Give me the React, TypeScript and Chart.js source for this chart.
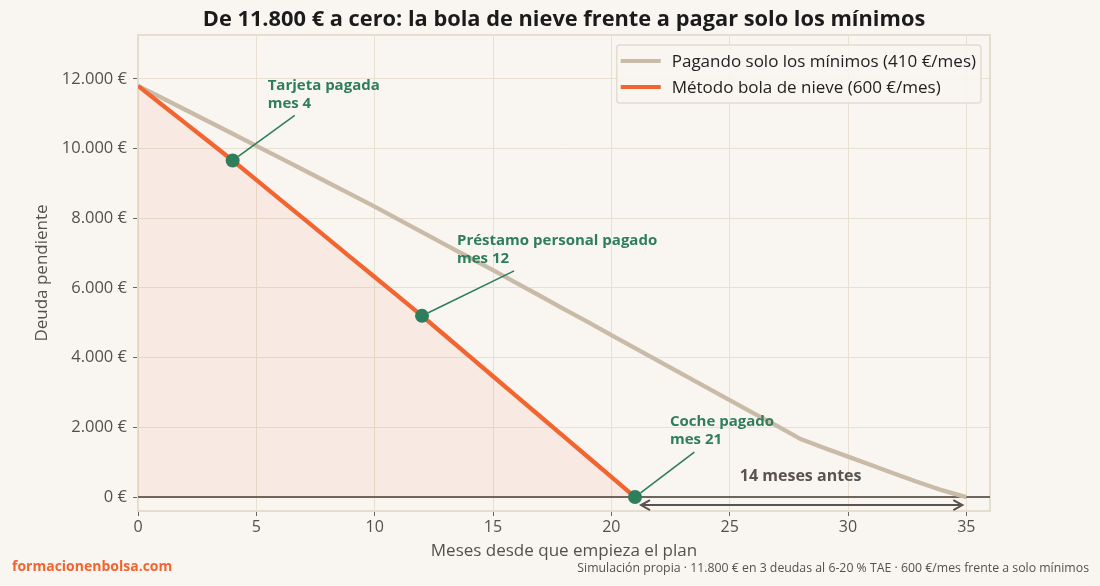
import { useEffect, useRef } from 'react';
import { Chart, registerables } from 'chart.js';

Chart.register(...registerables);

const FONT = '"Open Sans", "Noto Sans", sans-serif';

// Deuda pendiente (€) mes a mes
const minimumsMonths = [
  0, 1, 2, 3, 4, 5, 6, 7, 8, 9, 10, 11, 12, 13, 14, 15, 16, 17, 18, 19, 20, 21, 22, 23, 24, 25, 26, 27, 28, 29, 30, 31, 32, 33, 34, 35,
];
const minimumsDebt = [
  11800, 11460, 11115, 10770, 10425, 10080, 9735, 9385, 9035, 8685, 8335, 7970, 7605, 7240, 6875, 6510, 6140, 5770,
  5395, 5025, 4650, 4275, 3900, 3525, 3155, 2785, 2410, 2040, 1665, 1410, 1160, 910, 660, 420, 190, 0,
];
const snowballMonths = [0, 1, 2, 3, 4, 5, 6, 7, 8, 9, 10, 11, 12, 13, 14, 15, 16, 17, 18, 19, 20, 21];
const snowballDebt = [
  11800, 11265, 10730, 10195, 9660, 9102, 8545, 7988, 7430, 6872, 6315, 5758, 5200, 4622, 4045, 3467, 2890, 2312,
  1735, 1157, 580, 0,
];

// Hitos de la bola de nieve
const milestoneMonths = [4, 12, 21];
const milestoneLabels = [
  ['Tarjeta pagada', 'mes 4'],
  ['Préstamo personal pagado', 'mes 12'],
  ['Coche pagado', 'mes 21'],
];

const xTicks = [0, 5, 10, 15, 20, 25, 30, 35];
const yTicks = [0, 2000, 4000, 6000, 8000, 10000, 12000];

const seriesLabels = ['Pagando solo los mínimos (410 €/mes)', 'Método bola de nieve (600 €/mes)'];
const gapLabel = '14 meses antes';
const gapFrom = 21;
const gapTo = 35;

const COLORS = {
  bg: '#f9f6f1',
  grid: '#e8e0d2',
  spine: '#e5ddcf',
  beige: '#c9bba8',
  orange: '#f26531',
  green: '#2e7d5b',
  dark: '#5b534d',
  text: '#555050',
};

const fmtEuro = (v: number) => String(v).replace(/\B(?=(\d{3})+(?!\d))/g, '.') + ' €';

const overlayPlugin = {
  id: 'overlay',
  beforeDraw(chart: any) {
    const { ctx, width, height } = chart;
    ctx.save();
    ctx.fillStyle = COLORS.bg;
    ctx.fillRect(0, 0, width, height);
    ctx.restore();
  },
  beforeDatasetsDraw(chart: any) {
    const { ctx, chartArea } = chart;
    const y = chart.scales.y;
    ctx.save();
    // bordes superior y derecho
    ctx.strokeStyle = COLORS.spine;
    ctx.lineWidth = 2;
    ctx.beginPath();
    ctx.moveTo(chartArea.left, chartArea.top);
    ctx.lineTo(chartArea.right, chartArea.top);
    ctx.lineTo(chartArea.right, chartArea.bottom);
    ctx.stroke();
    // línea de cero
    const y0 = y.getPixelForValue(0);
    ctx.strokeStyle = '#6e655e';
    ctx.lineWidth = 2;
    ctx.beginPath();
    ctx.moveTo(chartArea.left, y0);
    ctx.lineTo(chartArea.right, y0);
    ctx.stroke();
    ctx.restore();
  },
  afterDatasetsDraw(chart: any) {
    const { ctx, chartArea, width } = chart;
    const x = chart.scales.x;
    const y = chart.scales.y;
    ctx.save();

    // anotaciones de hitos
    ctx.font = `bold 15px ${FONT}`;
    ctx.textBaseline = 'middle';
    ctx.textAlign = 'left';
    milestoneMonths.forEach((m, i) => {
      const px = x.getPixelForValue(m);
      const py = y.getPixelForValue(snowballDebt[m]);
      const tx = px + 35;
      const ty = py - 75;
      const lines = milestoneLabels[i];
      const w = Math.max(...lines.map((l) => ctx.measureText(l).width));
      const cx = tx + w / 2;
      const cy = ty + 9;
      const endY = ty + 18 + 12;
      const t = (py - endY) / (py - cy);
      const endX = px + (cx - px) * t;
      const ang = Math.atan2(endY - py, endX - px);
      ctx.strokeStyle = COLORS.green;
      ctx.lineWidth = 1.6;
      ctx.beginPath();
      ctx.moveTo(px + Math.cos(ang) * 7, py + Math.sin(ang) * 7);
      ctx.lineTo(endX, endY);
      ctx.stroke();
      ctx.fillStyle = COLORS.green;
      lines.forEach((l, j) => ctx.fillText(l, tx, ty + j * 18));
    });

    // flecha "14 meses antes"
    const ax1 = x.getPixelForValue(gapFrom) + 6;
    const ax2 = x.getPixelForValue(gapTo) - 4;
    const ay = y.getPixelForValue(-230);
    ctx.strokeStyle = COLORS.dark;
    ctx.lineWidth = 2;
    ctx.beginPath();
    ctx.moveTo(ax1, ay);
    ctx.lineTo(ax2, ay);
    ctx.moveTo(ax1 + 9, ay - 5);
    ctx.lineTo(ax1, ay);
    ctx.lineTo(ax1 + 9, ay + 5);
    ctx.moveTo(ax2 - 9, ay - 5);
    ctx.lineTo(ax2, ay);
    ctx.lineTo(ax2 - 9, ay + 5);
    ctx.stroke();
    ctx.fillStyle = COLORS.dark;
    ctx.font = `bold 16px ${FONT}`;
    ctx.textAlign = 'center';
    ctx.fillText(gapLabel, x.getPixelForValue((gapFrom + gapTo) / 2), y.getPixelForValue(600));

    // leyenda
    ctx.font = `17px ${FONT}`;
    const tw = Math.max(...seriesLabels.map((l) => ctx.measureText(l).width));
    const bw = 52 + tw + 8;
    const bx = chartArea.right - 9 - bw;
    const by = chartArea.top + 10;
    const bh = 58;
    ctx.fillStyle = 'rgba(249,246,241,0.85)';
    ctx.strokeStyle = '#e4dccf';
    ctx.lineWidth = 1.5;
    ctx.beginPath();
    ctx.roundRect(bx, by, bw, bh, 3);
    ctx.fill();
    ctx.stroke();
    [COLORS.beige, COLORS.orange].forEach((c, i) => {
      const ly = by + 16 + i * 26;
      ctx.strokeStyle = c;
      ctx.lineWidth = 4;
      ctx.beginPath();
      ctx.moveTo(bx + 4, ly);
      ctx.lineTo(bx + 44, ly);
      ctx.stroke();
      ctx.fillStyle = '#222';
      ctx.textAlign = 'left';
      ctx.fillText(seriesLabels[i], bx + 55, ly + 1);
    });

    // títulos de ejes
    ctx.fillStyle = COLORS.text;
    ctx.font = `17px ${FONT}`;
    ctx.textAlign = 'center';
    ctx.fillText('Meses desde que empieza el plan', (chartArea.left + chartArea.right) / 2, 551);
    ctx.save();
    ctx.translate(42, (chartArea.top + chartArea.bottom) / 2);
    ctx.rotate(-Math.PI / 2);
    ctx.fillText('Deuda pendiente', 0, 0);
    ctx.restore();

    // título
    ctx.fillStyle = '#1b1b1b';
    ctx.font = `bold 21.8px ${FONT}`;
    ctx.textAlign = 'center';
    ctx.fillText(
      'De 11.800 € a cero: la bola de nieve frente a pagar solo los mínimos',
      (chartArea.left + chartArea.right) / 2,
      20
    );

    // pie
    ctx.textAlign = 'left';
    ctx.fillStyle = COLORS.orange;
    ctx.font = `bold 14px ${FONT}`;
    ctx.fillText('formacionenbolsa.com', 12, 567);
    ctx.textAlign = 'right';
    ctx.fillStyle = COLORS.text;
    ctx.font = `12.3px ${FONT}`;
    ctx.fillText(
      'Simulación propia · 11.800 € en 3 deudas al 6-20 % TAE · 600 €/mes frente a solo mínimos',
      width - 11,
      568
    );
    ctx.restore();
  },
};

export default function App() {
  const canvasRef = useRef<HTMLCanvasElement>(null);

  useEffect(() => {
    document.body.style.margin = '0';
    if (!canvasRef.current) return;

    const chart = new Chart(canvasRef.current, {
      type: 'line',
      data: {
        datasets: [
          {
            label: 'Hitos',
            data: milestoneMonths.map((m) => ({ x: m, y: snowballDebt[m] })),
            showLine: false,
            pointRadius: 7,
            pointBackgroundColor: COLORS.green,
            pointBorderColor: COLORS.green,
            pointBorderWidth: 0,
          },
          {
            label: seriesLabels[1],
            data: snowballMonths.map((m, i) => ({ x: m, y: snowballDebt[i] })),
            borderColor: COLORS.orange,
            borderWidth: 4.3,
            pointRadius: 0,
            fill: 'origin',
            backgroundColor: 'rgba(242,101,49,0.08)',
            tension: 0,
          },
          {
            label: seriesLabels[0],
            data: minimumsMonths.map((m, i) => ({ x: m, y: minimumsDebt[i] })),
            borderColor: COLORS.beige,
            borderWidth: 4.3,
            pointRadius: 0,
            fill: false,
            tension: 0,
          },
        ],
      },
      options: {
        responsive: true,
        maintainAspectRatio: false,
        animation: false,
        layout: { padding: { top: 35, right: 110, left: 0, bottom: 0 } },
        plugins: {
          legend: { display: false },
          title: { display: false },
          tooltip: { enabled: false },
        },
        scales: {
          x: {
            type: 'linear',
            min: 0,
            max: 36,
            afterBuildTicks: (s: any) => {
              s.ticks = xTicks.map((v) => ({ value: v }));
            },
            afterFit: (s: any) => {
              s.height = 75;
            },
            grid: { color: COLORS.grid, lineWidth: 1, tickColor: '#6e655e', tickLength: 5, tickWidth: 1 },
            border: { display: true, color: COLORS.spine, width: 2 },
            ticks: { color: COLORS.text, font: { family: FONT, size: 16 }, padding: 2 },
          },
          y: {
            min: -400,
            max: 13260,
            afterBuildTicks: (s: any) => {
              s.ticks = yTicks.map((v) => ({ value: v }));
            },
            afterFit: (s: any) => {
              s.width = 138;
            },
            grid: { color: COLORS.grid, lineWidth: 1, tickColor: '#6e655e', tickLength: 5, tickWidth: 1 },
            border: { display: true, color: COLORS.spine, width: 2 },
            ticks: {
              color: COLORS.text,
              font: { family: FONT, size: 16.5 },
              padding: 6,
              callback: (v: any) => fmtEuro(Number(v)),
            },
          },
        },
      },
      plugins: [overlayPlugin],
    });

    return () => chart.destroy();
  }, []);

  return (
    <div style={{ position: 'absolute', left: 0, top: 0, width: 1100, height: 586 }}>
      <canvas ref={canvasRef} />
    </div>
  );
}
